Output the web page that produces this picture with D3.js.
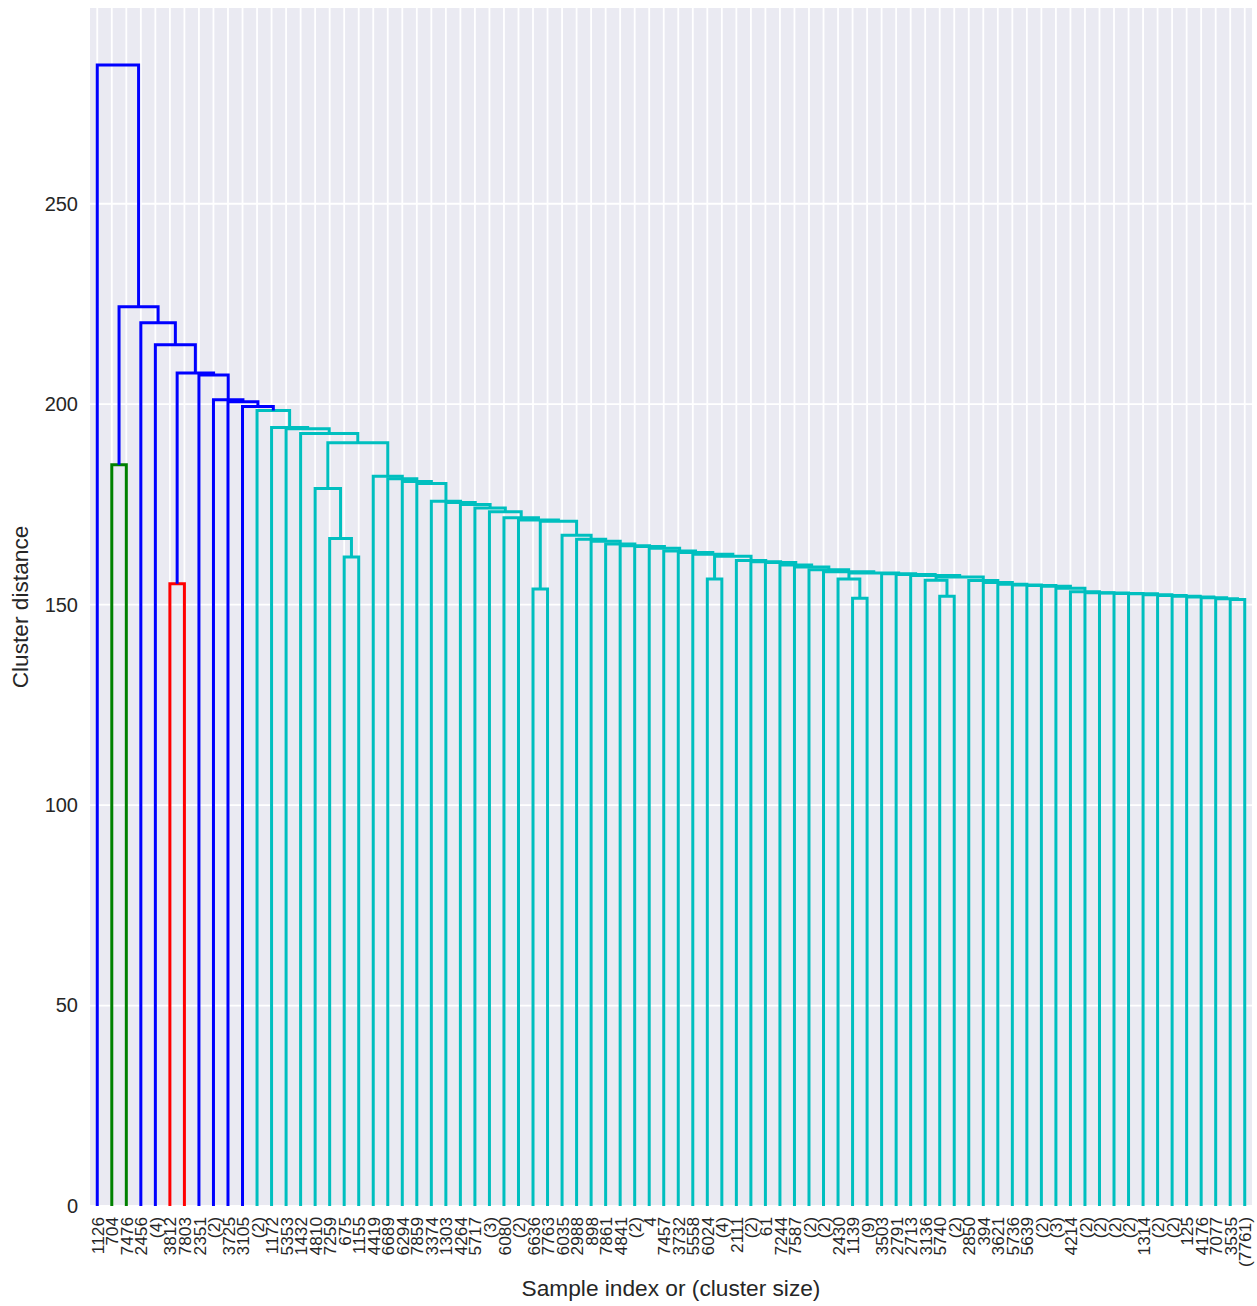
<!DOCTYPE html>
<html>
<head>
<meta charset="utf-8">
<script src="https://cdn.jsdelivr.net/npm/d3@7"></script>
<style>
  body { margin: 0; background: #ffffff; }
  text { font-family: "Liberation Sans", Arial, sans-serif; fill: #262626; }
</style>
</head>
<body>
<svg id="chart" width="1257" height="1306"></svg>
<script>
// Leaf labels of the truncated dendrogram (sample index or cluster size)
const leafLabels = [
  "1126","704","7476","2456","(4)","3812","7803","2351","(2)","3725",
  "3105","(2)","1172","5353","1432","4810","7259","675","1155","4419",
  "6689","6294","7859","3374","1303","4264","5717","(3)","6080","(2)",
  "6636","7763","6035","2988","898","7861","4841","(2)","4","7457",
  "3732","5558","6024","(4)","2111","(2)","61","7244","7587","(2)",
  "(2)","2430","1139","(9)","3503","2791","2713","3136","5740","(2)",
  "2850","394","3621","5736","5639","(2)","(3)","4214","(2)","(2)",
  "(2)","(2)","1314","(2)","(2)","125","4176","7077","3535","(7761)"
];

// Merges, bottom-up: [id, left child, right child, distance, colour key]
// A number refers to a leaf position, a string to an earlier merge.
const links = [
  ["n79", 78, 79, 151.3, "c"],
  ["n78", 77, "n79", 151.5, "c"],
  ["n77", 76, "n78", 151.7, "c"],
  ["n76", 75, "n77", 151.9, "c"],
  ["n75", 74, "n76", 152.1, "c"],
  ["n74", 73, "n75", 152.3, "c"],
  ["n73", 72, "n74", 152.5, "c"],
  ["n72", 71, "n73", 152.7, "c"],
  ["n71", 70, "n72", 152.8, "c"],
  ["n70", 69, "n71", 152.9, "c"],
  ["n69", 68, "n70", 153.0, "c"],
  ["n68", 67, "n69", 153.2, "c"],
  ["n67", 66, "n68", 154.1, "c"],
  ["n66", 65, "n67", 154.6, "c"],
  ["n65", 64, "n66", 154.8, "c"],
  ["n64", 63, "n65", 154.9, "c"],
  ["n63", 62, "n64", 155.1, "c"],
  ["n62", 61, "n63", 155.5, "c"],
  ["n61", 60, "n62", 156.0, "c"],
  ["p59", 58, 59, 152.1, "c"],
  ["s1", 57, "p59", 156.1, "c"],
  ["s2", "s1", "n61", 156.9, "c"],
  ["n57", 56, "s2", 157.3, "c"],
  ["n56", 55, "n57", 157.5, "c"],
  ["n55", 54, "n56", 157.7, "c"],
  ["p53", 52, 53, 151.6, "c"],
  ["r1", 51, "p53", 156.4, "c"],
  ["r2", "r1", "n55", 157.9, "c"],
  ["n51", 50, "r2", 158.2, "c"],
  ["n50", 49, "n51", 158.7, "c"],
  ["n49", 48, "n50", 159.4, "c"],
  ["n48", 47, "n49", 159.9, "c"],
  ["n47", 46, "n48", 160.5, "c"],
  ["n46", 45, "n47", 160.7, "c"],
  ["n45", 44, "n46", 161.0, "c"],
  ["p43", 42, 43, 156.4, "c"],
  ["q1", "p43", "n45", 162.1, "c"],
  ["n42", 41, "q1", 162.6, "c"],
  ["n41", 40, "n42", 163.0, "c"],
  ["n40", 39, "n41", 163.4, "c"],
  ["n39", 38, "n40", 164.1, "c"],
  ["n38", 37, "n39", 164.5, "c"],
  ["n37", 36, "n38", 164.7, "c"],
  ["n36", 35, "n37", 165.1, "c"],
  ["n35", 34, "n36", 165.8, "c"],
  ["n34", 33, "n35", 166.3, "c"],
  ["n33", 32, "n34", 167.3, "c"],
  ["pz", 30, 31, 153.9, "c"],
  ["p1", "pz", "n33", 170.8, "c"],
  ["p2", 29, "p1", 171.1, "c"],
  ["p3", 28, "p2", 171.7, "c"],
  ["p4", 27, "p3", 173.2, "c"],
  ["p5", 26, "p4", 174.1, "c"],
  ["p6", 25, "p5", 175.0, "c"],
  ["p7", 24, "p6", 175.5, "c"],
  ["p8", 23, "p7", 175.8, "c"],
  ["p9", 22, "p8", 180.2, "c"],
  ["p10", 21, "p9", 180.7, "c"],
  ["p11", 20, "p10", 181.4, "c"],
  ["lft", 19, "p11", 182.0, "c"],
  ["nn", 17, 18, 161.9, "c"],
  ["mm", 16, "nn", 166.5, "c"],
  ["kk", 15, "mm", 179.0, "c"],
  ["jj", "kk", "lft", 190.4, "c"],
  ["c4", 14, "jj", 192.7, "c"],
  ["c3", 13, "c4", 193.9, "c"],
  ["c2", 12, "c3", 194.2, "c"],
  ["c1", 11, "c2", 198.4, "c"],
  ["b8", 10, "c1", 199.4, "b"],
  ["b7", 9, "b8", 200.6, "b"],
  ["b6", 8, "b7", 201.1, "b"],
  ["b5", 7, "b6", 207.3, "b"],
  ["red", 5, 6, 155.2, "r"],
  ["b4", "red", "b5", 207.8, "b"],
  ["b3", 4, "b4", 214.8, "b"],
  ["b2", 3, "b3", 220.3, "b"],
  ["grn", 1, 2, 184.9, "g"],
  ["b1", "grn", "b2", 224.3, "b"],
  ["root", 0, "b1", 284.6, "b"]
];

const yTicks = [0, 50, 100, 150, 200, 250];
const colourKeys = { b: "#0000ff", g: "#008000", r: "#ff0000", c: "#00bfbf" };

// Dendrogram layout: leaves at 5, 15, 25, ...; a merge sits midway between its children
const nodes = new Map();
leafLabels.forEach((lab, i) => nodes.set(i, { x: 5 + 10 * i, h: 0 }));
links.forEach(([id, a, b, h]) => {
  const na = nodes.get(a), nb = nodes.get(b);
  nodes.set(id, { x: (na.x + nb.x) / 2, h });
});
const maxH = d3.max(links, d => d[3]);

const plot = { left: 90, right: 1252, top: 8, bottom: 1206 };
const svg = d3.select("#chart");

const x = d3.scaleLinear().domain([0, leafLabels.length * 10]).range([plot.left, plot.right]);
const y = d3.scaleLinear().domain([0, maxH * 1.05]).range([plot.bottom, plot.top]);

// Background panel and grid
svg.append("rect")
  .attr("x", plot.left).attr("y", plot.top)
  .attr("width", plot.right - plot.left).attr("height", plot.bottom - plot.top)
  .attr("fill", "#eaeaf2");

const leafPos = leafLabels.map((_, i) => 5 + 10 * i);
svg.append("g").selectAll("line").data(leafPos).join("line")
  .attr("x1", d => x(d)).attr("x2", d => x(d))
  .attr("y1", plot.top).attr("y2", plot.bottom)
  .attr("stroke", "#ffffff").attr("stroke-width", 1.8);
svg.append("g").selectAll("line").data(yTicks).join("line")
  .attr("x1", plot.left).attr("x2", plot.right)
  .attr("y1", d => y(d)).attr("y2", d => y(d))
  .attr("stroke", "#ffffff").attr("stroke-width", 1.8);

// Dendrogram links
const line = d3.line();
svg.append("g").selectAll("path").data(links).join("path")
  .attr("d", ([id, a, b, h]) => {
    const na = nodes.get(a), nb = nodes.get(b);
    return line([[x(na.x), y(na.h)], [x(na.x), y(h)], [x(nb.x), y(h)], [x(nb.x), y(nb.h)]]);
  })
  .attr("fill", "none")
  .attr("stroke", d => colourKeys[d[4]])
  .attr("stroke-width", 3)
  .attr("stroke-linejoin", "miter");

// Axes
const yAxis = svg.append("g")
  .attr("transform", `translate(${plot.left},0)`)
  .call(d3.axisLeft(y).tickValues(yTicks).tickSize(0).tickPadding(12));
yAxis.select(".domain").remove();
yAxis.selectAll("text").style("font-size", "20px").attr("fill", "#262626");

const xAxis = svg.append("g")
  .attr("transform", `translate(0,${plot.bottom})`)
  .call(d3.axisBottom(x).tickValues(leafPos).tickFormat((d, i) => leafLabels[i]).tickSize(0));
xAxis.select(".domain").remove();
xAxis.selectAll("text")
  .style("font-size", "17.3px")
  .attr("fill", "#262626")
  .attr("text-anchor", "end")
  .attr("dy", "0.35em")
  .attr("x", 0)
  .attr("y", 0)
  .attr("transform", "translate(0,11) rotate(-90)");

// Axis titles
svg.append("text")
  .attr("x", (plot.left + plot.right) / 2).attr("y", 1296)
  .attr("text-anchor", "middle")
  .style("font-size", "22.7px")
  .text("Sample index or (cluster size)");
svg.append("text")
  .attr("transform", `translate(28,${(plot.top + plot.bottom) / 2}) rotate(-90)`)
  .attr("text-anchor", "middle")
  .style("font-size", "22.7px")
  .text("Cluster distance");
</script>
</body>
</html>
